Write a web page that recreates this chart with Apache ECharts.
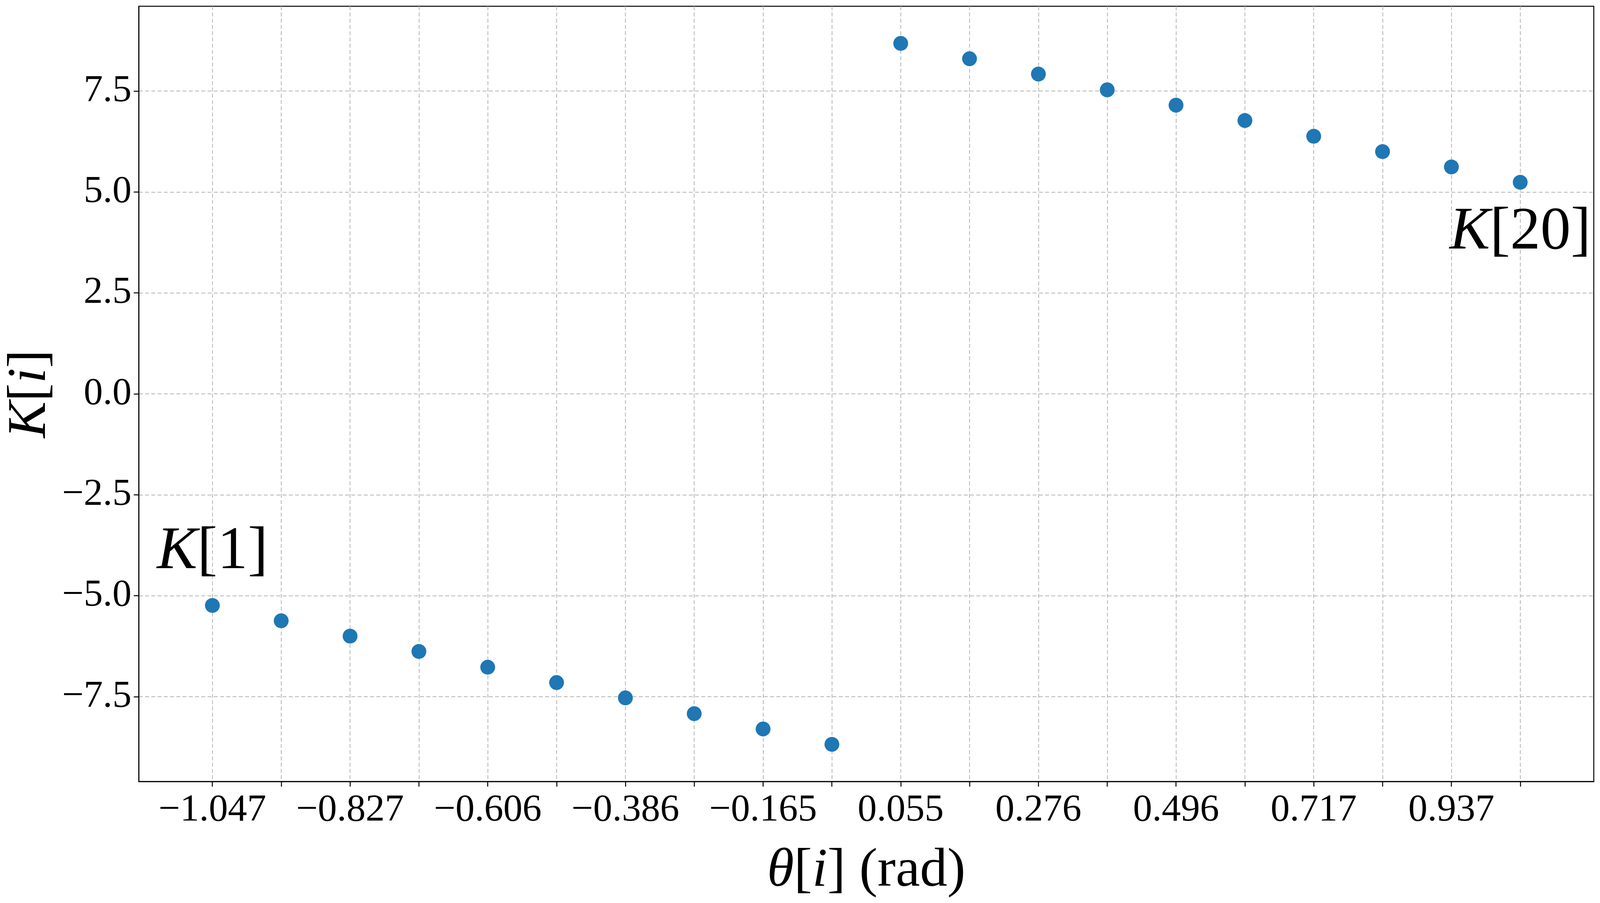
<!DOCTYPE html>
<html>
<head>
<meta charset="utf-8">
<script src="https://cdn.jsdelivr.net/npm/echarts@6/dist/echarts.min.js"></script>
<style>
html,body{margin:0;padding:0;background:#fff;overflow:hidden;width:100%;height:100%;}
#chart{position:absolute;left:0;top:0;width:100vw;height:100vh;}
</style>
</head>
<body>
<div id="chart"></div>
<script>
// theta[i] (rad), i = 1..20
const theta = [-1.0472, -0.9370, -0.8267, -0.7165, -0.6063, -0.4960, -0.3858, -0.2756, -0.1653, -0.0551,
                0.0551,  0.1653,  0.2756,  0.3858,  0.4960,  0.6063,  0.7165,  0.8267,  0.9370,  1.0472];
// K[i] values
const K = [-5.24, -5.62, -6.00, -6.38, -6.77, -7.15, -7.53, -7.92, -8.30, -8.68,
            8.68,  8.30,  7.92,  7.53,  7.15,  6.77,  6.38,  6.00,  5.62,  5.24];
// tick labels
const xTickValues = [-1.0472, -0.8267, -0.6063, -0.3858, -0.1653, 0.0551, 0.2756, 0.4960, 0.7165, 0.9370];
const xTickLabels = ['\u22121.047', '\u22120.827', '\u22120.606', '\u22120.386', '\u22120.165',
                     '0.055', '0.276', '0.496', '0.717', '0.937'];
const yTickValues = [-7.5, -5.0, -2.5, 0.0, 2.5, 5.0, 7.5];
const yTickLabels = ['\u22127.5', '\u22125.0', '\u22122.5', '0.0', '2.5', '5.0', '7.5'];
const annotations = {0: '{it|K}[1]', 19: '{it|K}[20]'};

// layout designed for 4375 x 2311; scale to the actual viewport
const W = window.innerWidth || 4375, H = window.innerHeight || 2311;
const sx = W / 4375, sy = H / 2311;

const FONT = 'Liberation Serif';
const gridLine = {show: true, lineStyle: {color: '#b5b5b5', width: 2, type: [10, 6]}};

function nearestLabel(v, vals, labels) {
  let best = 0, bd = Infinity;
  vals.forEach((t, i) => { const d = Math.abs(t - v); if (d < bd) { bd = d; best = i; } });
  return labels[best];
}

const data = theta.map((t, i) => {
  const item = {value: [t, K[i]]};
  if (annotations[i] !== undefined) {
    item.label = {
      show: true,
      formatter: annotations[i],
      position: i === 0 ? 'top' : 'bottom',
      distance: (i === 0 ? 40 : 32) * sy,
      fontFamily: FONT,
      fontSize: 155,
      color: '#000',
      rich: {it: {fontFamily: FONT, fontStyle: 'italic', fontSize: 155, color: '#000'}}
    };
  }
  return item;
});

const chart = echarts.init(document.getElementById('chart'), null, {renderer: 'canvas'});
chart.setOption({
  backgroundColor: '#fff',
  animation: false,
  grid: {left: 364 * sx, right: 17 * sx, top: 16 * sy, bottom: 311 * sy, show: true,
         borderColor: '#000', borderWidth: 2.5, backgroundColor: 'transparent'},
  xAxis: {
    type: 'value',
    min: -1.165, max: 1.165,
    name: '{it|\u03b8}[{it|i}] (rad)',
    nameLocation: 'middle',
    nameGap: 160 * sy,
    nameTextStyle: {fontFamily: FONT, fontSize: 140, color: '#000',
      rich: {it: {fontFamily: FONT, fontStyle: 'italic', fontSize: 140, color: '#000'}}},
    axisLine: {show: true, onZero: false, lineStyle: {color: '#000', width: 2.5}},
    axisTick: {show: true, length: 13, customValues: theta, lineStyle: {color: '#000', width: 2.5}},
    axisLabel: {show: true, customValues: xTickValues, margin: 25 * sy, fontFamily: FONT, fontSize: 98, color: '#000',
      formatter: v => nearestLabel(v, xTickValues, xTickLabels)},
    splitLine: gridLine
  },
  yAxis: {
    type: 'value',
    min: -9.6, max: 9.6,
    name: '{it|K}[{it|i}]',
    nameLocation: 'middle',
    nameGap: 180 * sx,
    nameTextStyle: {fontFamily: FONT, fontSize: 140, color: '#000',
      rich: {it: {fontFamily: FONT, fontStyle: 'italic', fontSize: 140, color: '#000'}}},
    axisLine: {show: true, onZero: false, lineStyle: {color: '#000', width: 2.5}},
    axisTick: {show: true, length: 13, customValues: yTickValues, lineStyle: {color: '#000', width: 2.5}},
    axisLabel: {show: true, customValues: yTickValues, margin: 20 * sx, fontFamily: FONT, fontSize: 98, color: '#000',
      formatter: v => nearestLabel(v, yTickValues, yTickLabels)},
    splitLine: gridLine
  },
  series: [{
    type: 'scatter',
    symbol: 'circle',
    symbolSize: 38,
    itemStyle: {color: '#1f77b4', opacity: 1},
    data: data
  }]
});
</script>
</body>
</html>
